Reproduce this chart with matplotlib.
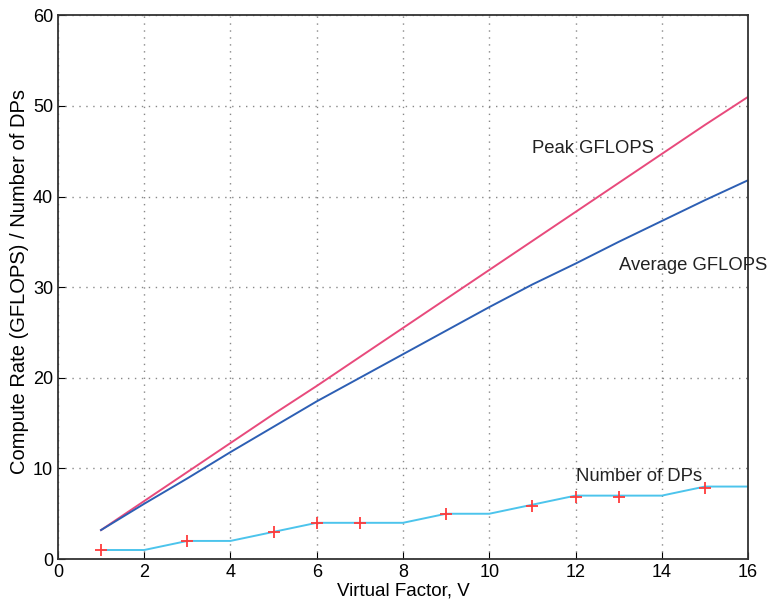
import matplotlib
matplotlib.use('Agg')
import matplotlib.pyplot as plt

plt.rcParams['font.family'] = ['Liberation Sans', 'DejaVu Sans']

# virtual factor V
v = [1, 2, 3, 4, 5, 6, 7, 8, 9, 10, 11, 12, 13, 14, 15, 16]
peak_gflops = [3.2, 6.4, 9.6, 12.8, 16.0, 19.1, 22.3, 25.5,
               28.7, 31.9, 35.1, 38.3, 41.5, 44.7, 47.9, 51.0]
avg_gflops = [3.2, 6.1, 8.9, 11.8, 14.6, 17.4, 20.0, 22.6,
              25.2, 27.8, 30.3, 32.6, 35.0, 37.3, 39.6, 41.8]
num_dps = [1, 1, 2, 2, 3, 4, 4, 4, 5, 5, 6, 7, 7, 7, 8, 8]

# measured points (red markers)
dp_mark_v = [1, 3, 5, 6, 7, 9, 11, 12, 13, 15]
dp_mark_n = [1, 2, 3, 4, 4, 5, 5.8, 6.8, 6.8, 7.8]

fig = plt.figure(figsize=(7.72, 6.11), dpi=100)
ax = fig.add_axes([0.075, 0.085, 0.894, 0.89])

ax.plot(v, peak_gflops, color='#e84a7c', linewidth=1.4)
ax.plot(v, avg_gflops, color='#2d5fb4', linewidth=1.4)
ax.plot(v, num_dps, color='#4cc4ec', linewidth=1.4)
ax.plot(dp_mark_v, dp_mark_n, linestyle='none', marker='+', color='#ff3b3b',
        markersize=9, markeredgewidth=1.3)

ax.text(11.0, 44.8, 'Peak GFLOPS', fontsize=13.3, color='#222222')
ax.text(13.0, 31.9, 'Average GFLOPS', fontsize=13.3, color='#222222')
ax.text(12.0, 8.6, 'Number of DPs', fontsize=13.3, color='#222222')

ax.set_xlim(0, 16)
ax.set_ylim(0, 60)
ax.set_xticks(range(0, 17, 2))
ax.set_yticks(range(0, 61, 10))
ax.tick_params(direction='in', labelsize=13, length=5)
ax.grid(True, linestyle=(0, (1, 4)), color='#888888', linewidth=1)
for s in ax.spines.values():
    s.set_linewidth(1.3)
    s.set_color('#333333')

ax.set_xlabel('Virtual Factor, V', fontsize=13.5, labelpad=1)
ax.set_ylabel('Compute Rate (GFLOPS) / Number of DPs', fontsize=14.5)
ax.yaxis.set_label_coords(-0.042, 0.51)

fig.savefig('out.png', dpi=100)
